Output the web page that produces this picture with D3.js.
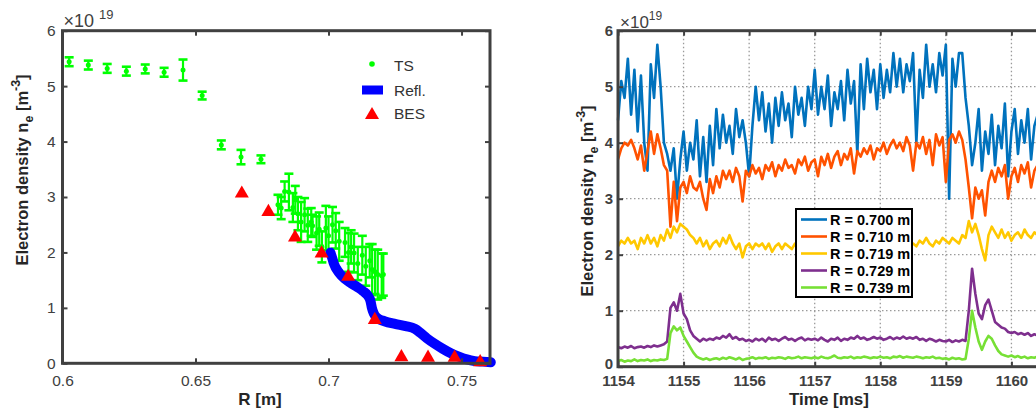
<!DOCTYPE html>
<html lang="en">
<head>
<meta charset="utf-8">
<title>Electron density profile and time traces</title>
<script src="https://cdnjs.cloudflare.com/ajax/libs/d3/7.8.5/d3.min.js"></script>
<style>
    body { margin: 0; background: #fff; }
    svg text { font-family: "Liberation Sans", Arial, Helvetica, sans-serif; }
</style>
</head>
<body>
<script>

// ---------------- left panel: radial profile ----------------
var tsR   = [0.6025, 0.6097, 0.6168, 0.6240, 0.6311, 0.6382, 0.6453, 0.6525, 0.6597, 0.6671, 0.6746,
             0.6810, 0.6822, 0.6835, 0.6851, 0.6866, 0.6875, 0.6885, 0.6897, 0.6910, 0.6922, 0.6935,
             0.6940, 0.6955, 0.6965, 0.6975, 0.6990, 0.7000, 0.7015, 0.7027, 0.7040, 0.7062, 0.7075,
             0.7085, 0.7096, 0.7110, 0.7127, 0.7140, 0.7155, 0.7164, 0.7175, 0.7185, 0.7200, 0.7206];
var tsNe  = [5.44, 5.38, 5.32, 5.27, 5.31, 5.25, 5.29, 4.83, 3.94, 3.72, 3.68,
             2.86, 2.80, 3.10, 3.09, 2.81, 2.95, 2.70, 2.55, 2.68, 2.49, 2.55,
             2.48, 2.35, 2.42, 2.10, 2.44, 2.30, 2.50, 2.39, 2.20, 2.18, 2.00,
             2.10, 1.99, 1.80, 1.95, 1.75, 1.85, 1.69, 1.65, 1.60, 1.58, 1.60];
var tsErr = [0.08, 0.08, 0.08, 0.08, 0.08, 0.08, 0.19, 0.07, 0.08, 0.13, 0.07,
             0.18, 0.20, 0.18, 0.33, 0.26, 0.25, 0.30, 0.36, 0.30, 0.30, 0.25,
             0.20, 0.30, 0.30, 0.28, 0.40, 0.35, 0.32, 0.32, 0.35, 0.26, 0.35,
             0.30, 0.35, 0.30, 0.35, 0.35, 0.30, 0.46, 0.40, 0.45, 0.40, 0.38];

var reflR  = [0.7007, 0.7015, 0.7020, 0.7040, 0.7060, 0.7080, 0.7110, 0.7130, 0.7148, 0.7158,
              0.7163, 0.7170, 0.7185, 0.7210, 0.7250, 0.7290, 0.7325, 0.7345, 0.7370, 0.7400,
              0.7430, 0.7460, 0.7490, 0.7520, 0.7550, 0.7580, 0.7610];
var reflNe = [2.00, 1.88, 1.80, 1.63, 1.53, 1.46, 1.37, 1.30, 1.22, 1.12,
              1.00, 0.90, 0.81, 0.76, 0.71, 0.67, 0.62, 0.55, 0.45, 0.35,
              0.26, 0.18, 0.12, 0.07, 0.04, 0.03, 0.02];

var besR  = [0.6674, 0.6774, 0.6874, 0.6974, 0.7074, 0.7174, 0.7274, 0.7374, 0.7474, 0.7570];
var besNe = [3.08, 2.75, 2.29, 2.00, 1.58, 0.80, 0.13, 0.12, 0.12, 0.04];

var rTicks = [0.6, 0.65, 0.7, 0.75];
var neTicks = [0, 1, 2, 3, 4, 5, 6];

// ---------------- right panel: time traces ----------------
var tStart = 1154, tStep = 0.05;   // sample spacing of the traces below

var ne700 = [4.4, 5.1, 4.8, 5.5, 4.5, 5.3, 4.2, 5.2, 4.0, 3.5,
             5.4, 4.8, 5.75, 5.0, 4.0, 3.8, 3.5, 3.9, 3.0, 3.7,
             4.2, 3.5, 4.0, 3.7, 4.4, 3.4, 4.1, 3.3, 4.3, 3.6,
             4.6, 3.9, 4.5, 4.0, 4.3, 3.8, 4.6, 4.1, 4.4, 4.0,
             3.4, 4.3, 5.0, 4.4, 4.9, 4.2, 4.7, 4.0, 4.8, 4.3,
             4.9, 4.4, 4.7, 4.1, 5.0, 4.5, 4.8, 4.3, 5.0, 4.6,
             5.3, 4.5, 5.0, 4.6, 5.2, 4.3, 4.9, 4.6, 5.1, 4.4,
             5.3, 4.7, 5.1, 3.8, 5.4, 4.6, 5.5, 4.9, 5.3, 4.6,
             5.4, 4.8, 5.3, 4.9, 5.6, 5.0, 5.5, 4.9, 5.4, 5.1,
             5.6, 4.0, 5.3, 4.8, 5.75, 5.0, 5.4, 4.9, 5.6, 5.2,
             5.75, 3.0, 5.5, 5.0, 5.6, 5.6, 4.8, 4.3, 3.6, 4.0,
             4.6, 3.5, 4.2, 3.8, 4.5, 3.6, 4.3, 3.9, 4.7, 3.4,
             4.2, 4.6, 3.8, 4.4, 4.0, 4.6, 3.7, 4.3, 4.5];

var ne710 = [3.7, 3.9, 4.0, 3.95, 4.05, 3.9, 3.7, 3.95, 3.5, 3.85,
             4.2, 3.8, 4.15, 3.9, 3.6, 3.5, 2.5, 3.3, 2.6, 3.2,
             3.3, 3.1, 3.4, 3.2, 3.15, 3.3, 3.0, 2.8, 3.35, 3.1,
             3.4, 3.2, 3.5, 3.35, 3.5, 3.3, 3.55, 3.4, 2.95, 3.5,
             3.4, 3.6, 3.45, 3.55, 3.35, 3.6, 3.5, 3.65, 3.4, 3.6,
             3.5, 3.7, 3.55, 3.6, 3.45, 3.7, 3.6, 3.75, 3.5, 3.65,
             3.7, 3.4, 3.75, 3.6, 3.8, 3.55, 3.75, 3.85, 3.6, 3.8,
             3.7, 3.9, 3.45, 3.85, 3.75, 3.9, 3.8, 3.95, 3.7, 3.9,
             3.85, 4.0, 3.8, 3.95, 4.05, 3.9, 4.0, 3.85, 4.1, 3.95,
             3.5, 4.0, 3.9, 4.1, 3.8, 4.05, 3.6, 4.15, 3.95, 4.1,
             3.3, 4.05, 4.15, 4.0, 4.2, 4.05, 3.7, 3.2, 2.65, 3.2,
             3.0, 3.15, 2.7, 3.3, 3.5, 3.3, 3.55, 3.4, 3.6, 3.0,
             3.4, 3.55, 3.3, 3.6, 3.45, 3.65, 3.2, 3.5, 3.6];

var ne719 = [2.15, 2.25, 2.2, 2.3, 2.2, 2.25, 2.1, 2.3, 2.2, 2.35,
             2.2, 2.3, 2.15, 2.35, 2.25, 2.45, 2.3, 2.5, 2.4, 2.55,
             2.5, 2.45, 2.35, 2.3, 2.2, 2.3, 2.15, 2.25, 2.1, 2.2,
             2.25, 2.15, 2.3, 2.2, 2.35, 2.2, 2.1, 2.2, 1.95, 2.15,
             2.2, 2.1, 2.2, 2.15, 2.2, 2.1, 2.2, 2.05, 2.15, 2.2,
             2.1, 2.2, 2.15, 2.1, 2.2, 2.05, 2.15, 2.2, 2.1, 2.15,
             2.2, 2.1, 2.15, 2.2, 2.1, 2.15, 2.25, 2.1, 2.2, 2.15,
             2.2, 2.15, 2.2, 2.1, 2.2, 2.15, 2.25, 2.2, 2.15, 2.2,
             2.15, 2.2, 2.1, 2.2, 2.15, 2.25, 2.2, 2.15, 2.25, 2.2,
             2.2, 2.15, 2.25, 2.2, 2.3, 2.2, 2.15, 2.25, 2.2, 2.3,
             2.25, 2.2, 2.3, 2.25, 2.2, 2.35, 2.3, 2.6, 2.4, 2.55,
             2.35, 2.1, 1.9, 2.35, 2.5, 2.4, 2.3, 2.45, 2.3, 2.4,
             2.25, 2.35, 2.4, 2.3, 2.45, 2.35, 2.3, 2.4, 2.35];

var ne729 = [0.35, 0.33, 0.36, 0.34, 0.37, 0.33, 0.35, 0.36, 0.34, 0.37,
             0.35, 0.38, 0.36, 0.38, 0.40, 0.45, 1.05, 1.15, 1.0, 1.3,
             0.95, 0.85, 0.65, 0.55, 0.5, 0.45, 0.5, 0.47, 0.5, 0.48,
             0.52, 0.5, 0.55, 0.52, 0.58, 0.5, 0.53, 0.48, 0.5, 0.46,
             0.48, 0.45, 0.5, 0.47, 0.5, 0.45, 0.52, 0.48, 0.5, 0.46,
             0.5, 0.53, 0.48, 0.5, 0.46, 0.5, 0.52, 0.47, 0.5, 0.48,
             0.5, 0.47, 0.52, 0.48, 0.45, 0.5, 0.48, 0.52, 0.46, 0.5,
             0.48, 0.52, 0.5, 0.55, 0.5, 0.52, 0.48, 0.5, 0.53, 0.5,
             0.52, 0.48, 0.5, 0.53, 0.49, 0.52, 0.5, 0.54, 0.5, 0.52,
             0.5, 0.53, 0.48, 0.5, 0.46, 0.5, 0.48, 0.45, 0.48, 0.46,
             0.45, 0.48, 0.44, 0.47, 0.45, 0.48, 0.46, 1.0, 1.75, 1.3,
             0.95, 0.85, 1.1, 1.2, 1.0, 0.8, 0.75, 0.7, 0.68, 0.62,
             0.6, 0.62, 0.58, 0.6, 0.57, 0.6, 0.55, 0.58, 0.56];

var ne739 = [0.1, 0.12, 0.09, 0.11, 0.1, 0.13, 0.1, 0.12, 0.11, 0.13,
             0.1, 0.12, 0.11, 0.13, 0.12, 0.14, 0.6, 0.72, 0.65, 0.7,
             0.55, 0.45, 0.35, 0.25, 0.18, 0.15, 0.13, 0.15, 0.12, 0.14,
             0.15, 0.13, 0.16, 0.14, 0.17, 0.15, 0.13, 0.16, 0.12, 0.14,
             0.15, 0.17, 0.14, 0.16, 0.15, 0.17, 0.14, 0.16, 0.15, 0.17,
             0.16, 0.14, 0.17, 0.15, 0.16, 0.18, 0.15, 0.17, 0.16, 0.15,
             0.17, 0.15, 0.18, 0.16, 0.15, 0.17, 0.2, 0.16, 0.15, 0.17,
             0.16, 0.18, 0.15, 0.17, 0.16, 0.18, 0.17, 0.15, 0.17, 0.16,
             0.18, 0.16, 0.17, 0.15, 0.18, 0.17, 0.19, 0.16, 0.18, 0.17,
             0.16, 0.18, 0.17, 0.15, 0.17, 0.16, 0.18, 0.15, 0.16, 0.14,
             0.15, 0.13, 0.16, 0.14, 0.15, 0.13, 0.14, 0.5, 1.0, 0.7,
             0.45, 0.3, 0.45, 0.55, 0.5, 0.38, 0.28, 0.22, 0.2, 0.18,
             0.2, 0.17, 0.19, 0.16, 0.18, 0.15, 0.17, 0.16, 0.18];

var traceLabels = ["R = 0.700 m", "R = 0.710 m", "R = 0.719 m", "R = 0.729 m", "R = 0.739 m"];
var traceColors = ["#0072BD", "#FF5200", "#FFC800", "#7E2F8E", "#77E035"];
var timeTicks = [1154, 1155, 1156, 1157, 1158, 1159, 1160];

// ------------------------------------------------------------
var W = 1036, H = 409;
var axisColor = "#404040";

var svg = d3.select("body").append("svg")
    .attr("width", W)
    .attr("height", H);

// ================= left panel =================
var L = { left: 62.5, right: 490, top: 30.7, bottom: 363.3 };

var xL = d3.scaleLinear().domain([0.6, 0.7607]).range([L.left, L.right]);
var yL = d3.scaleLinear().domain([0, 6]).range([L.bottom, L.top]);

var gL = svg.append("g");

// TS error bars (dots sit under them)
var ts = tsR.map(function(r, i) { return { r: r, n: tsNe[i], e: tsErr[i] }; });

gL.selectAll("circle.ts").data(ts).enter().append("circle")
    .attr("class", "ts")
    .attr("cx", function(d) { return xL(d.r); })
    .attr("cy", function(d) { return yL(d.n); })
    .attr("r", 2.5)
    .attr("fill", "#00FF00");

var bars = gL.selectAll("g.eb").data(ts).enter().append("g")
    .attr("class", "eb")
    .attr("stroke", "#00FF00")
    .attr("stroke-width", 2.2);
bars.append("line")
    .attr("x1", function(d) { return xL(d.r); })
    .attr("x2", function(d) { return xL(d.r); })
    .attr("y1", function(d) { return yL(d.n - d.e); })
    .attr("y2", function(d) { return yL(d.n + d.e); });
bars.append("line")
    .attr("x1", function(d) { return xL(d.r) - 4.5; })
    .attr("x2", function(d) { return xL(d.r) + 4.5; })
    .attr("y1", function(d) { return yL(d.n - d.e); })
    .attr("y2", function(d) { return yL(d.n - d.e); })
    .attr("stroke-width", 2.6);
bars.append("line")
    .attr("x1", function(d) { return xL(d.r) - 4.5; })
    .attr("x2", function(d) { return xL(d.r) + 4.5; })
    .attr("y1", function(d) { return yL(d.n + d.e); })
    .attr("y2", function(d) { return yL(d.n + d.e); })
    .attr("stroke-width", 2.6);

// Reflectometry profile
var refl = reflR.map(function(r, i) { return [r, reflNe[i]]; });
gL.append("path")
    .datum(refl)
    .attr("fill", "none")
    .attr("stroke", "#0000FF")
    .attr("stroke-width", 10)
    .attr("stroke-linecap", "round")
    .attr("stroke-linejoin", "round")
    .attr("d", d3.line()
        .x(function(d) { return xL(d[0]); })
        .y(function(d) { return yL(d[1]); })
        .curve(d3.curveMonotoneX));

// BES triangles
var tri = d3.symbol().type(d3.symbolTriangle).size(85);
gL.selectAll("path.bes").data(besR).enter().append("path")
    .attr("class", "bes")
    .attr("d", tri)
    .attr("fill", "#FF0000")
    .attr("transform", function(d, i) {
        return "translate(" + xL(d) + "," + (yL(besNe[i]) + 1) + ")";
    });

// axes (ticks point inwards, MATLAB style)
function styleTicks(g, size, weight, color) {
    g.select(".domain").remove();
    g.selectAll(".tick line").attr("stroke", axisColor).attr("stroke-width", 2);
    g.selectAll(".tick text")
        .attr("font-size", size)
        .attr("font-weight", weight)
        .attr("fill", color)
        .attr("font-family", "Liberation Sans, Arial, sans-serif");
}

gL.append("g")
    .attr("transform", "translate(0," + L.bottom + ")")
    .call(d3.axisBottom(xL).tickValues(rTicks).tickFormat(d3.format("~g"))
        .tickSizeInner(-5).tickSizeOuter(0).tickPadding(12))
    .call(styleTicks, 15.5, "normal", "#404040");
gL.append("g")
    .attr("transform", "translate(" + L.left + ",0)")
    .call(d3.axisLeft(yL).tickValues(neTicks).tickFormat(d3.format("d"))
        .tickSizeInner(-5).tickSizeOuter(0).tickPadding(7))
    .call(styleTicks, 15.5, "normal", "#404040");
gL.append("g")
    .attr("transform", "translate(0," + L.top + ")")
    .call(d3.axisTop(xL).tickValues(rTicks).tickFormat("").tickSizeInner(-5).tickSizeOuter(0))
    .call(styleTicks, 15, "normal", "#404040");
gL.append("g")
    .attr("transform", "translate(" + L.right + ",0)")
    .call(d3.axisRight(yL).tickValues(neTicks).tickFormat("").tickSizeInner(-5).tickSizeOuter(0))
    .call(styleTicks, 15, "normal", "#404040");

gL.append("rect")
    .attr("x", L.left).attr("y", L.top)
    .attr("width", L.right - L.left).attr("height", L.bottom - L.top)
    .attr("fill", "none").attr("stroke", axisColor).attr("stroke-width", 3);

// exponent
var expL = gL.append("text").attr("x", L.left + 1).attr("y", 27)
    .attr("font-size", 18).attr("fill", "#404040");
expL.append("tspan").text("\u00d710");
expL.append("tspan").attr("dx", 5).attr("dy", -8).attr("font-size", 13).text("19");

// axis labels
gL.append("text")
    .attr("x", 260).attr("y", 405)
    .attr("text-anchor", "middle")
    .attr("font-size", 17).attr("font-weight", "bold").attr("fill", "#262626")
    .text("R [m]");

function densityLabel(g, x, y, size) {
    var t = g.append("text")
        .attr("transform", "translate(" + x + "," + y + ") rotate(-90)")
        .attr("text-anchor", "middle")
        .attr("font-size", size).attr("font-weight", "bold").attr("fill", "#262626");
    t.append("tspan").text("Electron density n");
    t.append("tspan").attr("dy", 5).attr("font-size", size * 0.75).text("e");
    t.append("tspan").attr("dy", -5).text(" [m");
    t.append("tspan").attr("dy", -8).attr("font-size", size * 0.75).text("-3");
    t.append("tspan").attr("dy", 8).text("]");
}
densityLabel(gL, 28, 170, 16.5);

// legend
gL.append("circle").attr("cx", 372).attr("cy", 64).attr("r", 2.8).attr("fill", "#00FF00");
gL.append("rect").attr("x", 362).attr("y", 85.5).attr("width", 21).attr("height", 9).attr("fill", "#0000FF");
gL.append("path").attr("d", tri).attr("fill", "#FF0000").attr("transform", "translate(372,115)");
[["TS", 71], ["Refl.", 96], ["BES", 119]].forEach(function(d) {
    gL.append("text").attr("x", 394).attr("y", d[1])
        .attr("font-size", 15.5).attr("fill", "#333")
        .text(d[0]);
});

// ================= right panel =================
var R = { left: 618, right: 1077, top: 30.7, bottom: 366.7 };

var xR = d3.scaleLinear().domain([1154, 1161]).range([R.left, R.right]);
var yR = d3.scaleLinear().domain([0, 6]).range([R.bottom, R.top]);

var gR = svg.append("g");

// dotted grid
gR.selectAll("line.gx").data(timeTicks.slice(1)).enter().append("line")
    .attr("x1", function(d) { return xR(d); }).attr("x2", function(d) { return xR(d); })
    .attr("y1", R.top).attr("y2", R.bottom)
    .attr("stroke", "#9a9a9a").attr("stroke-width", 1.3).attr("stroke-dasharray", "1.5,2.5");
gR.selectAll("line.gy").data(neTicks.slice(1, 6)).enter().append("line")
    .attr("x1", R.left).attr("x2", R.right)
    .attr("y1", function(d) { return yR(d); }).attr("y2", function(d) { return yR(d); })
    .attr("stroke", "#9a9a9a").attr("stroke-width", 1.3).attr("stroke-dasharray", "1.5,2.5");

var traces = [ne700, ne710, ne719, ne729, ne739];
var traceLine = d3.line()
    .x(function(d, i) { return xR(tStart + i * tStep); })
    .y(function(d) { return yR(d); });

gR.selectAll("path.trace").data(traces).enter().append("path")
    .attr("class", "trace")
    .attr("fill", "none")
    .attr("stroke", function(d, i) { return traceColors[i]; })
    .attr("stroke-width", 2.6)
    .attr("stroke-linejoin", "round")
    .attr("d", traceLine);

gR.append("g")
    .attr("transform", "translate(0," + R.bottom + ")")
    .call(d3.axisBottom(xR).tickValues(timeTicks).tickFormat(d3.format("d"))
        .tickSizeInner(-5).tickSizeOuter(0).tickPadding(9))
    .call(styleTicks, 15, "bold", "#404040");
gR.append("g")
    .attr("transform", "translate(" + R.left + ",0)")
    .call(d3.axisLeft(yR).tickValues(neTicks).tickFormat(d3.format("d"))
        .tickSizeInner(-5).tickSizeOuter(0).tickPadding(5))
    .call(styleTicks, 15, "bold", "#404040")
    .selectAll(".tick text")
    .filter(function(d) { return d === 0; })
    .attr("y", -3);   // keep the 0 clear of the 1154 label below it
gR.append("g")
    .attr("transform", "translate(0," + R.top + ")")
    .call(d3.axisTop(xR).tickValues(timeTicks).tickFormat("").tickSizeInner(-5).tickSizeOuter(0))
    .call(styleTicks, 15, "bold", "#404040");

gR.append("rect")
    .attr("x", R.left).attr("y", R.top)
    .attr("width", R.right - R.left).attr("height", R.bottom - R.top)
    .attr("fill", "none").attr("stroke", axisColor).attr("stroke-width", 3);

var expR = gR.append("text").attr("x", R.left + 2).attr("y", 28)
    .attr("font-size", 17).attr("fill", "#404040");
expR.append("tspan").text("\u00d710");
expR.append("tspan").attr("dy", -8).attr("font-size", 12).text("19");

gR.append("text")
    .attr("x", 829).attr("y", 405)
    .attr("text-anchor", "middle")
    .attr("font-size", 17).attr("font-weight", "bold").attr("fill", "#262626")
    .text("Time [ms]");

densityLabel(gR, 593, 201, 16.5);

// legend box
var leg = gR.append("g");
leg.append("rect")
    .attr("x", 796).attr("y", 209).attr("width", 116).attr("height", 88)
    .attr("fill", "#fff").attr("stroke", "#000").attr("stroke-width", 2);
traceLabels.forEach(function(lab, i) {
    var y = 219.5 + i * 17;
    leg.append("line")
        .attr("x1", 801).attr("x2", 827).attr("y1", y).attr("y2", y)
        .attr("stroke", traceColors[i]).attr("stroke-width", 2.6);
    leg.append("text")
        .attr("x", 830).attr("y", y + 5)
        .attr("font-size", 14.5).attr("font-weight", "bold").attr("fill", "#000")
        .text(lab);
});

</script>
</body>
</html>
